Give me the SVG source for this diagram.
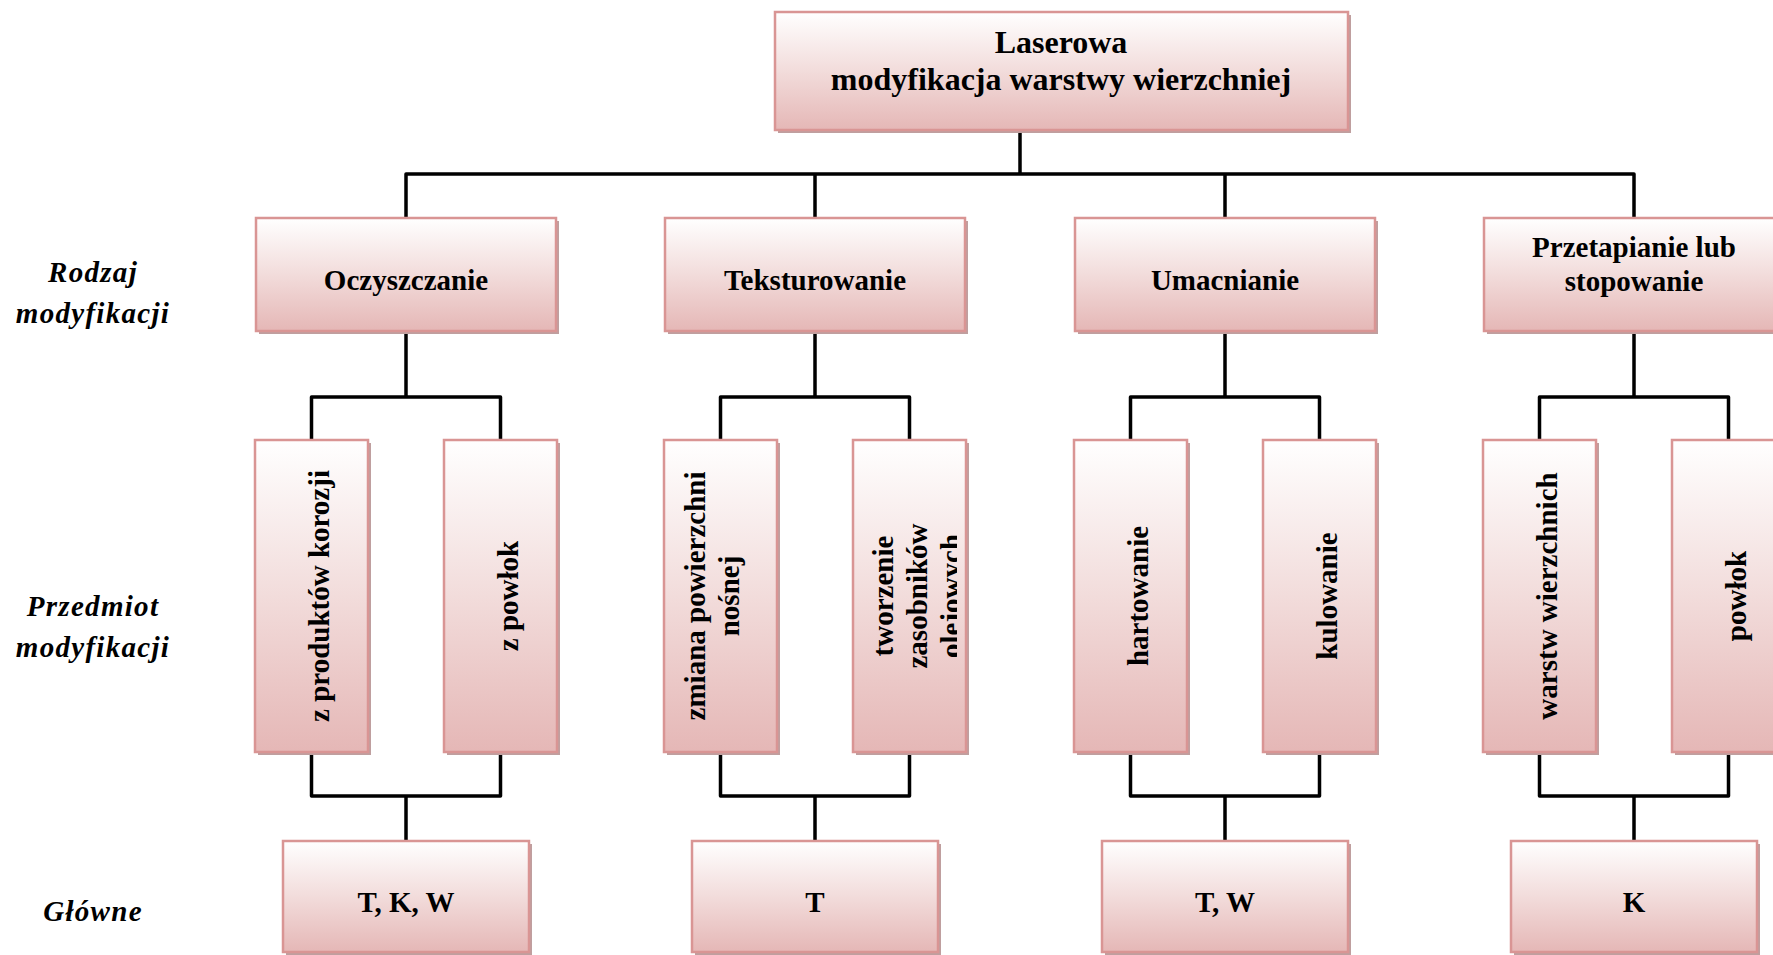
<svg xmlns="http://www.w3.org/2000/svg" width="1773" height="955" viewBox="0 0 1773 955">
<defs>
<linearGradient id="g" x1="0" y1="0" x2="0" y2="1">
<stop offset="0" stop-color="#ffffff"/>
<stop offset="0.5" stop-color="#f2dcdb"/>
<stop offset="1" stop-color="#e5b7b6"/>
</linearGradient>
<clipPath id="clipT"><rect x="853" y="441" width="104" height="311"/></clipPath>
</defs>
<style>
.box{fill:url(#g);stroke:#d99594;stroke-width:2.5}
.sh{fill:#bf9f9f}
.t{font-family:"Liberation Serif","Times New Roman",serif;font-weight:bold;font-size:29px;text-anchor:middle;fill:#000}
.top{font-size:32px}
.lbl{font-style:italic;letter-spacing:1.3px}
.conn{fill:none;stroke:#000;stroke-width:3.5;stroke-linejoin:round}
</style>
<rect width="1773" height="955" fill="#fff"/>

<g id="connectors">
<path class="conn" d="M1020,130 V174 M406,218 V174 H1634 V218 M815,174 V218 M1225,174 V218"/>
<path class="conn" d="M406,331 V397 M311.5,440 V397 H500.5 V440 M311.5,752 V796 H500.5 V752 M406,796 V841"/>
<path class="conn" d="M815,331 V397 M720.5,440 V397 H909.5 V440 M720.5,752 V796 H909.5 V752 M815,796 V841"/>
<path class="conn" d="M1225,331 V397 M1130.5,440 V397 H1319.5 V440 M1130.5,752 V796 H1319.5 V752 M1225,796 V841"/>
<path class="conn" d="M1634,331 V397 M1539.5,440 V397 H1728.5 V440 M1539.5,752 V796 H1728.5 V752 M1634,796 V841"/>
</g>

<g id="labels">
<text class="t lbl" x="93" y="282">Rodzaj</text>
<text class="t lbl" x="93" y="323">modyfikacji</text>
<text class="t lbl" x="93" y="616">Przedmiot</text>
<text class="t lbl" x="93" y="657">modyfikacji</text>
<text class="t lbl" x="93" y="921">Główne</text>
</g>

<g id="root">
<rect class="sh" x="778" y="15" width="573" height="118"/>
<rect class="box" x="775" y="12" width="573" height="118"/>
<text class="t top" x="1061" y="53">Laserowa</text>
<text class="t top" x="1061" y="90">modyfikacja warstwy wierzchniej</text>
</g>

<g id="oczyszczanie">
<rect class="sh" x="259" y="221" width="300" height="113"/>
<rect class="box" x="256" y="218" width="300" height="113"/>
<text class="t" x="406" y="290">Oczyszczanie</text>
</g>
<g id="teksturowanie">
<rect class="sh" x="668" y="221" width="300" height="113"/>
<rect class="box" x="665" y="218" width="300" height="113"/>
<text class="t" x="815" y="290">Teksturowanie</text>
</g>
<g id="umacnianie">
<rect class="sh" x="1078" y="221" width="300" height="113"/>
<rect class="box" x="1075" y="218" width="300" height="113"/>
<text class="t" x="1225" y="290">Umacnianie</text>
</g>
<g id="przetapianie">
<rect class="sh" x="1487" y="221" width="300" height="113"/>
<rect class="box" x="1484" y="218" width="300" height="113"/>
<text class="t" x="1634" y="257">Przetapianie lub</text>
<text class="t" x="1634" y="291">stopowanie</text>
</g>

<g id="korozji">
<rect class="sh" x="258" y="443" width="113" height="312"/>
<rect class="box" x="255" y="440" width="113" height="312"/>
<text class="t" transform="translate(311.5,596) rotate(-90)" y="17">z produktów korozji</text>
</g>
<g id="z-powlok">
<rect class="sh" x="447" y="443" width="113" height="312"/>
<rect class="box" x="444" y="440" width="113" height="312"/>
<text class="t" transform="translate(500.5,596) rotate(-90)" y="17">z powłok</text>
</g>
<g id="zmiana">
<rect class="sh" x="667" y="443" width="113" height="312"/>
<rect class="box" x="664" y="440" width="113" height="312"/>
<text class="t" transform="translate(720.5,596) rotate(-90)" y="-16">zmiana powierzchni</text>
<text class="t" transform="translate(720.5,596) rotate(-90)" y="18">nośnej</text>
</g>
<g id="tworzenie">
<rect class="sh" x="856" y="443" width="113" height="312"/>
<rect class="box" x="853" y="440" width="113" height="312"/>
<g clip-path="url(#clipT)">
<text class="t" transform="translate(909.5,596) rotate(-90)" y="-17">tworzenie</text>
<text class="t" transform="translate(909.5,596) rotate(-90)" y="17">zasobników</text>
<text class="t" transform="translate(909.5,596) rotate(-90)" y="51">olejowych</text>
</g>
</g>
<g id="hartowanie">
<rect class="sh" x="1077" y="443" width="113" height="312"/>
<rect class="box" x="1074" y="440" width="113" height="312"/>
<text class="t" transform="translate(1130.5,596) rotate(-90)" y="17">hartowanie</text>
</g>
<g id="kulowanie">
<rect class="sh" x="1266" y="443" width="113" height="312"/>
<rect class="box" x="1263" y="440" width="113" height="312"/>
<text class="t" transform="translate(1319.5,596) rotate(-90)" y="17">kulowanie</text>
</g>
<g id="warstw">
<rect class="sh" x="1486" y="443" width="113" height="312"/>
<rect class="box" x="1483" y="440" width="113" height="312"/>
<text class="t" transform="translate(1539.5,596) rotate(-90)" y="17">warstw wierzchnich</text>
</g>
<g id="powlok">
<rect class="sh" x="1675" y="443" width="113" height="312"/>
<rect class="box" x="1672" y="440" width="113" height="312"/>
<text class="t" transform="translate(1728.5,596) rotate(-90)" y="17">powłok</text>
</g>

<g id="tkw">
<rect class="sh" x="286" y="844" width="246" height="111"/>
<rect class="box" x="283" y="841" width="246" height="111"/>
<text class="t" x="406" y="912">T, K, W</text>
</g>
<g id="t">
<rect class="sh" x="695" y="844" width="246" height="111"/>
<rect class="box" x="692" y="841" width="246" height="111"/>
<text class="t" x="815" y="912">T</text>
</g>
<g id="tw">
<rect class="sh" x="1105" y="844" width="246" height="111"/>
<rect class="box" x="1102" y="841" width="246" height="111"/>
<text class="t" x="1225" y="912">T, W</text>
</g>
<g id="k">
<rect class="sh" x="1514" y="844" width="246" height="111"/>
<rect class="box" x="1511" y="841" width="246" height="111"/>
<text class="t" x="1634" y="912">K</text>
</g>
</svg>
